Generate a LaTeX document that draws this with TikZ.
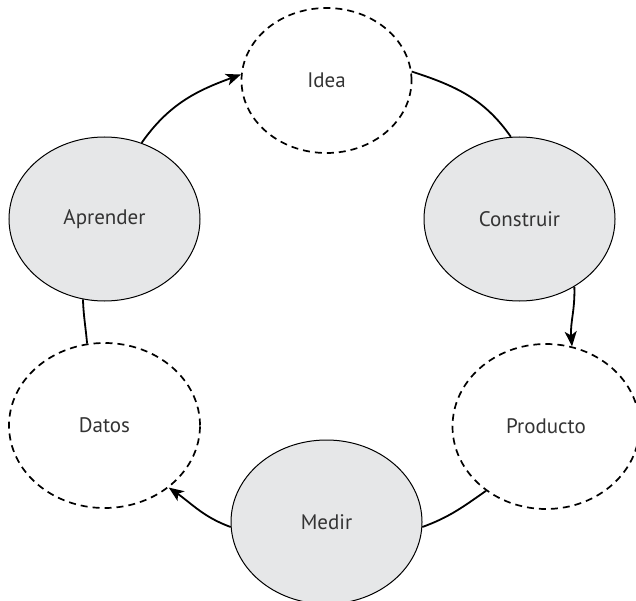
\documentclass[tikz,border=0pt]{standalone}
\usepackage{fontspec}
\setmainfont{PT Sans}
\usetikzlibrary{shapes.geometric,arrows.meta}
\definecolor{nodefill}{HTML}{E6E7E8}
\definecolor{txt}{HTML}{333333}
\tikzset{
  base/.style={ellipse, inner sep=0pt, text=txt, font=\fontsize{21}{25}\selectfont},
  solidnode/.style={base, draw=black, line width=1pt, fill=nodefill, minimum width=191pt, minimum height=164pt},
  dashnode/.style={base, draw=black, line width=1.7pt, dash pattern=on 7pt off 5pt, minimum width=191pt, minimum height=165pt},
  conn/.style={draw=black, line width=1.8pt},
  arr/.style={conn, -{Stealth[length=15pt,width=12pt,inset=4pt]}}
}
\begin{document}
\begin{tikzpicture}[x=1pt,y=-1pt]
\useasboundingbox (0,0) rectangle (636,601);
\node[dashnode, minimum width=170pt, minimum height=145pt] (idea) at (326.5,80.5) {Idea};
\node[solidnode] (apr) at (104.5,219) {Aprender};
\node[solidnode] (con) at (519.5,219) {Construir};
\node[dashnode] (dat) at (104.5,425.5) {Datos};
\node[dashnode, minimum width=187pt] (pro) at (546,426.5) {Producto};
\node[solidnode] (med) at (326.5,522) {Medir};
\draw[arr] (apr.64) to[out=55, in=200] (idea.176);
\draw[conn] (idea.6) to[out=-18, in=125] (con.96);
\draw[arr] (con.-51) to[out=-88, in=95] (pro.72);
\draw[conn] (pro.227) to[out=215, in=20] (med.-3);
\draw[arr] (med.183) to[out=160, in=-35] (dat.-44);
\draw[conn] (dat.102) to[out=95, in=-88] (apr.255);
\end{tikzpicture}
\end{document}
